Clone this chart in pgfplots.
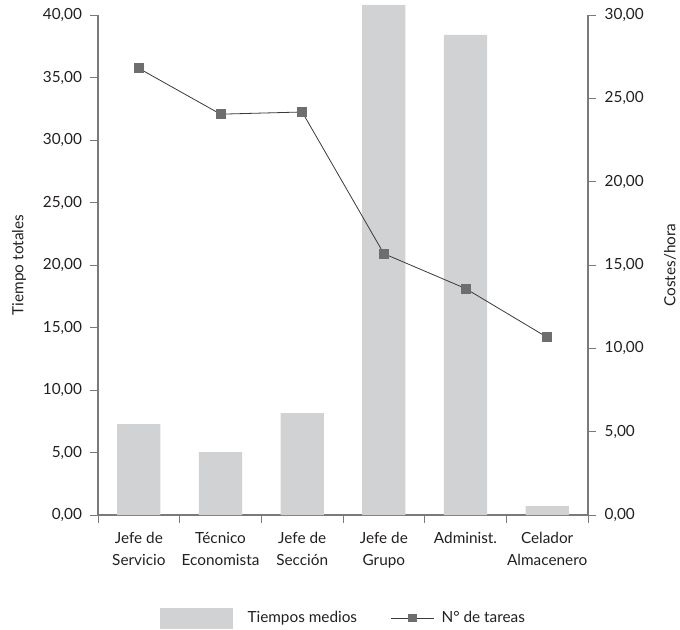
\documentclass[border=0pt]{standalone}
\usepackage{fontspec}
\setmainfont{Lato}
\usepackage{pgfplots}
\usepackage{pgfplotstable}
\pgfplotsset{compat=1.18}

\definecolor{barfill}{HTML}{D1D2D4}
\definecolor{markfill}{HTML}{6D6E70}
\definecolor{linecol}{HTML}{3A3A3A}
\definecolor{axiscol}{HTML}{7A7A7A}
\definecolor{textcol}{HTML}{231F20}

% Tiempo totales (left axis) and costes/hora (right axis) per puesto
\pgfplotstableread{
x tiempo costes
0 7.28  26.80
1 5.04  24.05
2 8.16  24.18
3 40.80 15.68
4 38.40 13.59
5 0.72  10.66
}\datatable

\newcommand{\lblfont}{\fontsize{11.5}{16.5}\selectfont}

\pgfplotsset{
  base/.style={
    width=367.5pt, height=375pt, scale only axis,
    at={(0,0)}, anchor=south west,
    xmin=-0.5, xmax=5.5,
    tick align=outside,
    major tick length=6pt,
    minor tick length=6pt,
    every tick/.style={axiscol, line width=0.6pt},
    axis line style={axiscol, line width=0.8pt},
    tick label style={font=\lblfont, text=textcol},
    yticklabel style={
      /pgf/number format/fixed,
      /pgf/number format/fixed zerofill,
      /pgf/number format/precision=2,
      /pgf/number format/use comma,
      /pgf/number format/assume math mode=true},
  }
}

\begin{document}
\begin{tikzpicture}
\begin{axis}[base,
  ymin=0, ymax=40, ytick={0,5,...,40},
  axis x line*=bottom, axis y line*=left,
  clip=false,
  xtick={0,1,2,3,4,5},
  xticklabels={{Jefe de\\Servicio},{Técnico\\Economista},{Jefe de\\Sección},{Jefe de\\Grupo},{Administ.},{Celador\\Almacenero}},
  xticklabel style={align=center, anchor=north, yshift=-3.5pt},
  yticklabel style={xshift=-2.5pt},
  minor xtick={-0.5,0.5,1.5,2.5,3.5,4.5,5.5},
  major x tick style={draw=none},
]
\addplot[ybar, bar width=0.53, bar shift=0pt, fill=barfill, draw=none]
  table[x=x, y=tiempo]{\datatable};
\end{axis}

\begin{axis}[base,
  ymin=0, ymax=30, ytick={0,5,...,30},
  axis x line=none, axis y line*=right,
  yticklabel style={xshift=3pt},
  legend style={at={(0.502,-0.206)}, anchor=center, draw=none, fill=none,
    font=\fontsize{11.5}{13.8}\selectfont, text=textcol,
    legend columns=2,
    /tikz/every even column/.append style={column sep=23pt}},
]
\addlegendimage{legend image code/.code={
    \fill[barfill] (0pt,-7.5pt) rectangle (54pt,7.5pt);
    \path (63pt,0pt);}}
\addlegendentry{Tiempos medios}
\addplot[linecol, line width=0.6pt, mark=square*, mark size=3.4pt,
  mark options={fill=markfill, draw=markfill},
  legend image code/.code={
    \draw[linecol, line width=0.6pt] (0pt,0pt) -- (32pt,0pt);
    \fill[markfill] (13pt,-2.6pt) rectangle (19pt,2.6pt);
    \path (35.75pt,0pt);}]
  table[x=x, y=costes]{\datatable};
\addlegendentry{N° de tareas}
\end{axis}

\node[rotate=90, font=\lblfont, text=textcol] at (-59.25pt,187.5pt) {Tiempo totales};
\node[rotate=90, font=\lblfont, text=textcol] at (429pt,187.5pt) {Costes/hora};

\pgfresetboundingbox
\useasboundingbox (-73.5pt,-85.5pt) rectangle (436.5pt,386.25pt);
\end{tikzpicture}
\end{document}
